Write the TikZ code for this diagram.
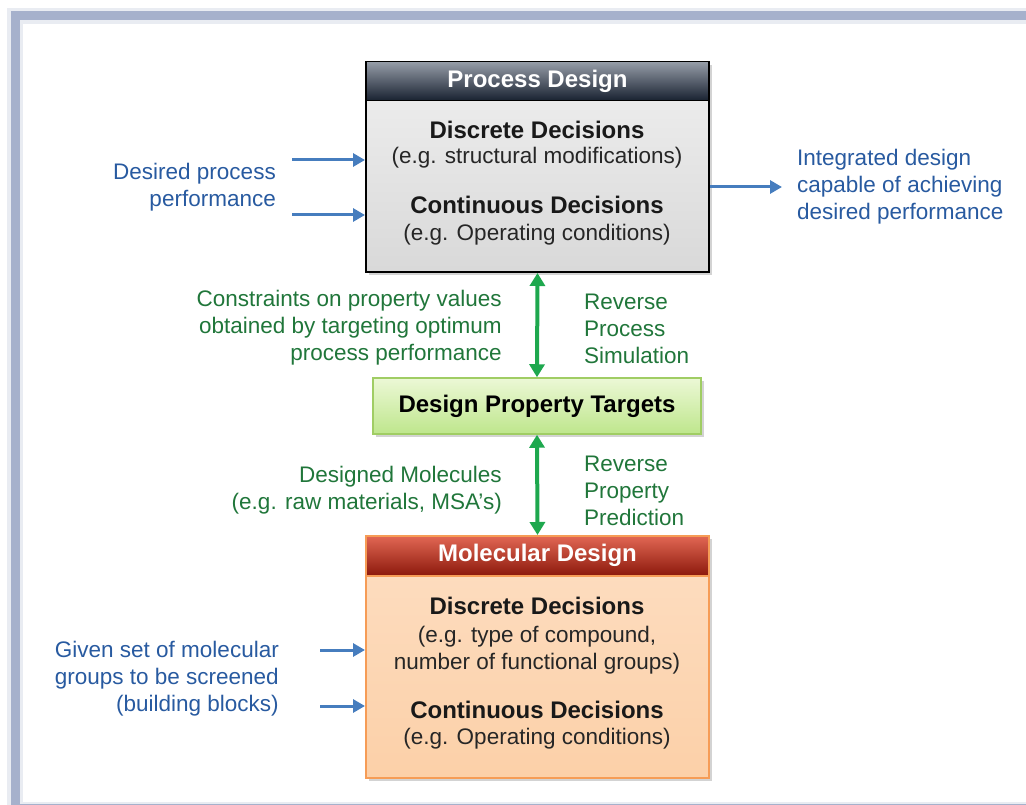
\documentclass[tikz,border=0pt]{standalone}
\usepackage{fontspec}
\setmainfont{Liberation Sans}
\usetikzlibrary{arrows.meta,positioning,shadows}

\definecolor{framecol}{RGB}{166,177,204}
\definecolor{flowblue}{RGB}{70,125,190}
\definecolor{txtblue}{RGB}{40,90,160}
\definecolor{linkgreen}{RGB}{30,168,78}
\definecolor{txtgreen}{RGB}{32,118,58}
\definecolor{procdark}{RGB}{24,33,48}
\definecolor{proclight}{RGB}{150,157,168}
\definecolor{molred}{RGB}{140,24,12}
\definecolor{mollight}{RGB}{226,104,84}
\definecolor{molline}{RGB}{246,156,86}
\definecolor{molfill}{RGB}{252,208,168}
\definecolor{dptline}{RGB}{160,205,100}
\definecolor{dpttop}{RGB}{236,248,214}
\definecolor{dptbot}{RGB}{190,230,140}

\begin{document}
\begin{tikzpicture}[x=1pt, y=-1pt,
  lbl/.style={font=\fontsize{22.5}{27}\selectfont, inner sep=0pt},
  bluelbl/.style={lbl, text=txtblue},
  greenlbl/.style={lbl, text=txtgreen},
  dec/.style={inner sep=0pt, text=black!90, font=\fontsize{24}{28}\selectfont\bfseries},
  eg/.style={lbl, text=black!85, align=center},
  box/.style={line width=2pt, minimum width=343pt,
    drop shadow={opacity=0.35, shadow xshift=3pt, shadow yshift=-3pt}},
  head/.style={line width=1.5pt, minimum width=343pt, minimum height=39pt,
    text=white, font=\fontsize{24}{28}\selectfont\bfseries},
  flow/.style={-{Triangle[length=12pt,width=13pt]}, flowblue, line width=3pt},
  link/.style={{Triangle[length=13pt,width=15pt]}-{Triangle[length=13pt,width=15pt]},
    linkgreen, line width=4pt}
]
\clip (0,0) rectangle (1026,805);
\useasboundingbox (0,0) rectangle (1026,805);

% frame round the sheet
\draw[framecol!25, line width=16pt] (15,16) rectangle (1045,810);
\draw[framecol, line width=9pt] (15,16) rectangle (1045,808);

% process design block
\node[box, draw=black, top color=black!6, bottom color=black!15, minimum height=210pt]
  (proc) at (537.5,167) {};
\node[head, draw=black, top color=proclight, bottom color=procdark, anchor=north]
  (prochead) at (proc.north) {Process Design};
\node[dec] (pdisc) at (537,130) {Discrete Decisions};
\node[eg] (pdisceg) at (537,158) {(e.g. structural modifications)};
\node[dec] (pcont) at (537,205) {Continuous Decisions};
\node[eg] (pconteg) at (537,235) {(e.g. Operating conditions)};

% property targets
\node[box, draw=dptline, line width=1.5pt, top color=dpttop, bottom color=dptbot,
  minimum width=328pt, minimum height=56pt, text=black]
  (dpt) at (537,406) {\fontsize{24}{28}\selectfont\bfseries Design Property Targets};

% molecular design block
\node[box, draw=molline, top color=molfill!70!white, bottom color=molfill, minimum height=242pt]
  (mol) at (537.5,657) {};
\node[head, draw=molline, top color=mollight, bottom color=molred, minimum height=40pt, anchor=north]
  (molhead) at (mol.north) {Molecular Design};
\node[dec] (mdisc) at (537,606) {Discrete Decisions};
\node[eg] (mdisceg) at (537,650) {(e.g. type of compound,\\number of functional groups)};
\node[dec] (mcont) at (537,710) {Continuous Decisions};
\node[eg] (mconteg) at (537,739) {(e.g. Operating conditions)};

% inputs and output
\coordinate (pin1) at (292,160);
\coordinate (pin2) at (292,215);
\coordinate (pout) at (782,187);
\coordinate (min1) at (320,650);
\coordinate (min2) at (320,706);
\draw[flow] (pin1) -- (pin1 -| proc.west);
\draw[flow] (pin2) -- (pin2 -| proc.west);
\draw[flow] (proc.east |- pout) -- (pout);
\draw[flow] (min1) -- (min1 -| mol.west);
\draw[flow] (min2) -- (min2 -| mol.west);

\node[bluelbl, align=right, anchor=east] (perf) at (276,187)
  {Desired process\\performance};
\node[bluelbl, align=left, right=15pt of pout] (integ)
  {Integrated design\\capable of achieving\\desired performance};
\node[bluelbl, align=right, anchor=east] (groups) at (279,679)
  {Given set of molecular\\groups to be screened\\(building blocks)};

% links between the levels
\draw[link] (proc.south) -- (dpt.north);
\draw[link] (dpt.south) -- (mol.north);

\node[greenlbl, align=right, anchor=east] (constr) at (502,328)
  {Constraints on property values\\obtained by targeting optimum\\process performance};
\node[greenlbl, align=left, anchor=west] (rps) at (584,329)
  {Reverse\\Process\\Simulation};
\node[greenlbl, align=right, anchor=east] (desmol) at (502,490)
  {Designed Molecules\\(e.g. raw materials, MSA’s)};
\node[greenlbl, align=left, anchor=west] (rpp) at (584,491)
  {Reverse\\Property\\Prediction};
\end{tikzpicture}
\end{document}
